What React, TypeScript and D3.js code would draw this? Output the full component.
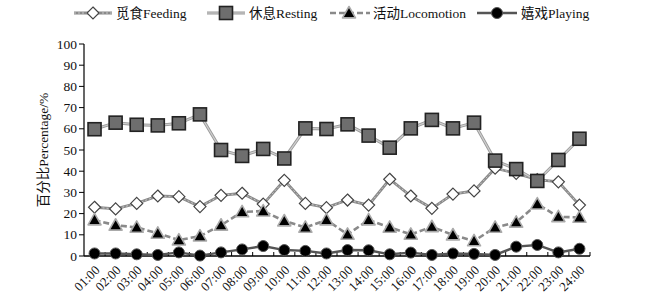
import React from "react";
import * as d3 from "d3";

const hours = ["01:00","02:00","03:00","04:00","05:00","06:00","07:00","08:00","09:00","10:00","11:00","12:00","13:00","14:00","15:00","16:00","17:00","18:00","19:00","20:00","21:00","22:00","23:00","24:00"];
const feeding = [23, 22.2, 24.8, 28.3, 28, 23.3, 28.6, 29.6, 24.5, 35.7, 24.8, 22.8, 26.4, 24, 36.2, 28.3, 22.5, 29.2, 30.7, 41.4, 39, 36, 35, 24];
const resting = [59.8, 62.9, 61.9, 61.6, 62.6, 66.8, 50, 47.2, 50.5, 46, 60.2, 59.9, 62.1, 56.8, 51.1, 60.2, 64.2, 60.2, 62.9, 45, 41, 35.4, 45.3, 55.3];
const locomotion = [17, 14.5, 13.5, 10.7, 7.5, 9.4, 14.5, 20.8, 21.2, 16.5, 13.5, 17, 10.2, 17, 13.5, 10.2, 13.8, 9.9, 7.1, 13.5, 15.9, 24.5, 18.5, 18.2];
const playing = [1.2, 1.2, 0.8, 0.5, 1.7, 0.2, 1.7, 3.1, 4.7, 2.8, 2.4, 1.2, 2.8, 2.7, 0.8, 1.6, 0.5, 1.2, 1, 0.5, 4.4, 5.2, 1.7, 3.4];
const yTicks = [0, 10, 20, 30, 40, 50, 60, 70, 80, 90, 100];
const seriesNames = ["觅食Feeding", "休息Resting", "活动Locomotion", "嬉戏Playing"];

const FONT = "'Liberation Serif', 'Times New Roman', 'Noto Sans CJK SC', serif";

type Kind = "diamond" | "square" | "triangle" | "circle";

function Marker({ kind, x, y }: { kind: Kind; x: number; y: number }) {
  if (kind === "diamond") {
    const r = 6;
    return <path d={`M${x},${y - r}L${x + r},${y}L${x},${y + r}L${x - r},${y}Z`} fill="#fff" stroke="#444" strokeWidth={1.2} />;
  }
  if (kind === "square") {
    const s = 6.5;
    return <rect x={x - s} y={y - s} width={2 * s} height={2 * s} fill="#6e6e6e" stroke="#222" strokeWidth={1.6} />;
  }
  if (kind === "triangle") {
    const r = 6.5;
    return <path d={`M${x},${y - r}L${x + r},${y + r * 0.75}L${x - r},${y + r * 0.75}Z`} fill="#000" stroke="#aaa" strokeWidth={1.6} strokeLinejoin="round" />;
  }
  return <circle cx={x} cy={y} r={5.5} fill="#000" stroke="#555" strokeWidth={1} />;
}

function SeriesLine({ d, kind }: { d: string; kind: Kind }) {
  if (kind === "diamond") {
    return (
      <g fill="none">
        <path d={d} stroke="#8a8a8a" strokeWidth={2.8} />
        <path d={d} stroke="#c8c8c8" strokeWidth={1} strokeDasharray="2,2" />
      </g>
    );
  }
  if (kind === "square") {
    return (
      <g fill="none">
        <path d={d} stroke="#9a9a9a" strokeWidth={3} />
        <path d={d} stroke="#cfcfcf" strokeWidth={1.2} />
      </g>
    );
  }
  if (kind === "triangle") {
    return <path d={d} fill="none" stroke="#8a8a8a" strokeWidth={2.6} strokeDasharray="6,3" />;
  }
  return <path d={d} fill="none" stroke="#555" strokeWidth={2.4} />;
}

export default function App() {
  const W = 657, H = 308;
  const x = d3.scaleBand<string>().domain(hours).range([84, 590]);
  const bw = x.bandwidth();
  const cx = (h: string) => (x(h) as number) + bw / 2;
  const y = d3.scaleLinear().domain([0, 100]).range([256, 44]);
  const line = d3.line<number>().x((_, i) => cx(hours[i])).y((v) => y(v));

  const series: { vals: number[]; kind: Kind }[] = [
    { vals: feeding, kind: "diamond" },
    { vals: resting, kind: "square" },
    { vals: locomotion, kind: "triangle" },
    { vals: playing, kind: "circle" },
  ];

  const legend = [
    { x1: 74, x2: 112, mx: 93, tx: 116 },
    { x1: 207, x2: 245, mx: 226, tx: 249 },
    { x1: 330, x2: 370, mx: 349, tx: 373 },
    { x1: 477, x2: 517, mx: 497, tx: 521 },
  ];
  const ly = 13;
  const lineGen = d3.line<[number, number]>();

  return (
    <svg width={W} height={H} style={{ position: "absolute", left: 0, top: 0, background: "#fff" }} fontFamily={FONT}>
      <rect x={0} y={0} width={W} height={H} fill="#fff" />
      {/* legend */}
      {series.map((s, i) => {
        const L = legend[i];
        return (
          <g key={"lg" + i}>
            <SeriesLine d={lineGen([[L.x1, ly], [L.x2, ly]]) as string} kind={s.kind} />
            <Marker kind={s.kind} x={L.mx} y={ly} />
            <text x={L.tx} y={ly + 4.5} fontSize={13.5} fill="#111">{seriesNames[i]}</text>
          </g>
        );
      })}
      {/* y axis */}
      <line x1={84} x2={84} y1={y(100)} y2={y(0)} stroke="#000" strokeWidth={1.2} />
      {yTicks.map((t) => (
        <g key={"yt" + t}>
          <line x1={79} x2={84} y1={y(t)} y2={y(t)} stroke="#000" strokeWidth={1} />
          <text x={77} y={y(t) + 4.5} fontSize={13.5} textAnchor="end" fill="#111">{t}</text>
        </g>
      ))}
      <text transform={`translate(48,${(y(0) + y(100)) / 2}) rotate(-90)`} fontSize={13.5} textAnchor="middle" fill="#111">百分比Percentage/%</text>
      {/* x axis */}
      <line x1={84} x2={590} y1={y(0)} y2={y(0)} stroke="#000" strokeWidth={1.4} />
      {hours.map((h) => (
        <line key={"xt" + h} x1={(x(h) as number) + bw} x2={(x(h) as number) + bw} y1={y(0)} y2={y(0) - 4} stroke="#000" strokeWidth={1} />
      ))}
      {hours.map((h) => (
        <text key={"xl" + h} transform={`translate(${cx(h) + 6},${y(0) + 15}) rotate(-45)`} fontSize={13} textAnchor="end" fill="#111">{h}</text>
      ))}
      {/* series */}
      {series.map((s, i) => (
        <g key={"s" + i}>
          <SeriesLine d={line(s.vals) as string} kind={s.kind} />
          {s.vals.map((v, j) => (
            <Marker key={j} kind={s.kind} x={cx(hours[j])} y={y(v)} />
          ))}
        </g>
      ))}
    </svg>
  );
}
